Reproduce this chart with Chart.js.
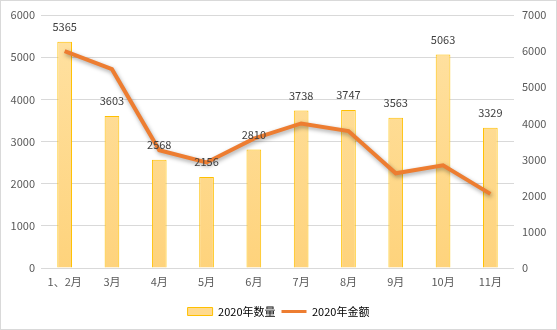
<!DOCTYPE html>
<html>
<head>
<meta charset="utf-8">
<script src="https://cdn.jsdelivr.net/npm/chart.js@4"></script>
<style>
  html, body { margin: 0; padding: 0; background: #fff; }
  #wrap { width: 557px; height: 330px; position: relative; }
</style>
</head>
<body>
<div id="wrap"><canvas id="chart"></canvas></div>
<script>
// monthly figures, 2020
const months = ["1、2月", "3月", "4月", "5月", "6月", "7月", "8月", "9月", "10月", "11月"];
const qty = [5365, 3603, 2568, 2156, 2810, 3738, 3747, 3563, 5063, 3329];
const amount = [6000, 5500, 3260, 2920, 3580, 4000, 3790, 2620, 2840, 2050];
const qtyName = "2020年数量";
const amountName = "2020年金额";

const FONT = "'Noto Sans CJK SC', 'Noto Sans', sans-serif";
const TEXT = "#595959";
const GRID = "#d9d9d9";
const ORANGE = "#ed7d31";

Chart.defaults.font.family = FONT;
Chart.defaults.font.size = 11;
Chart.defaults.color = TEXT;

function barFill(ctx) {
  const area = ctx.chart.chartArea;
  if (!area) return "#ffda8f";
  const g = ctx.chart.ctx.createLinearGradient(0, area.top, 0, area.bottom);
  g.addColorStop(0, "#ffe2a4");
  g.addColorStop(1, "#fed37c");
  return g;
}

const plain = (v) => String(v);

// number above each bar
const barLabels = {
  id: "barLabels",
  afterDatasetsDraw(chart) {
    const meta = chart.getDatasetMeta(0);
    const c = chart.ctx;
    c.save();
    c.font = "11px " + FONT;
    c.fillStyle = "#404040";
    c.textAlign = "center";
    c.textBaseline = "middle";
    meta.data.forEach((bar, i) => {
      c.fillText(String(qty[i]), bar.x, bar.y - 15);
    });
    c.restore();
  },
};

// soft drop shadow under the amount line
const lineShadow = {
  id: "lineShadow",
  beforeDatasetDraw(chart, args) {
    if (args.index !== 1) return;
    const c = chart.ctx;
    c.save();
    c.shadowColor = "rgba(0,0,0,0.35)";
    c.shadowBlur = 4;
    c.shadowOffsetX = 1;
    c.shadowOffsetY = 2;
  },
  afterDatasetDraw(chart, args) {
    if (args.index !== 1) return;
    chart.ctx.restore();
  },
};

// thin frame around the whole chart
const frame = {
  id: "frame",
  afterDraw(chart) {
    const c = chart.ctx;
    c.save();
    c.strokeStyle = GRID;
    c.lineWidth = 1;
    c.strokeRect(0.5, 0.5, chart.width - 1, chart.height - 1);
    c.restore();
  },
};

new Chart(document.getElementById("chart"), {
  data: {
    labels: months,
    datasets: [
      {
        type: "bar",
        label: qtyName,
        data: qty,
        yAxisID: "y",
        backgroundColor: barFill,
        borderColor: "#ffc000",
        borderWidth: 1,
        barPercentage: 0.31,
        categoryPercentage: 1,
        order: 1,
      },
      {
        type: "line",
        label: amountName,
        data: amount,
        yAxisID: "y1",
        borderColor: ORANGE,
        backgroundColor: ORANGE,
        borderWidth: 4,
        pointRadius: 0,
        tension: 0,
        order: 0,
      },
    ],
  },
  options: {
    responsive: true,
    maintainAspectRatio: false,
    animation: false,
    layout: { padding: { top: 15, bottom: 3, left: 0, right: 0 } },
    plugins: {
      tooltip: { enabled: false },
      legend: {
        position: "bottom",
        labels: {
          usePointStyle: true,
          pointStyleWidth: 25,
          boxWidth: 25,
          boxHeight: 8,
          padding: 6,
          color: TEXT,
          font: { size: 11 },
          generateLabels(chart) {
            return [
              { text: qtyName, pointStyle: "rect", fillStyle: "#ffda8f", strokeStyle: "#ffc000", lineWidth: 1, datasetIndex: 0 },
              { text: amountName, pointStyle: "line", fillStyle: ORANGE, strokeStyle: ORANGE, lineWidth: 3, datasetIndex: 1 },
            ];
          },
        },
      },
    },
    scales: {
      x: {
        grid: { display: false },
        border: { display: false },
        ticks: { color: TEXT, padding: -1, maxRotation: 0 },
        afterFit(scale) { scale.height = 32; },
      },
      y: {
        position: "left",
        min: 0,
        max: 6000,
        ticks: { stepSize: 1000, color: TEXT, padding: 6, callback: plain },
        grid: { color: GRID, drawTicks: false },
        border: { display: false },
        afterFit(scale) { scale.width = 41; },
      },
      y1: {
        position: "right",
        min: 0,
        max: 7000,
        ticks: { stepSize: 1000, color: TEXT, padding: 8, callback: plain },
        grid: { display: false, drawTicks: false },
        border: { display: false },
        afterFit(scale) { scale.width = 43; },
      },
    },
  },
  plugins: [barLabels, lineShadow, frame],
});
</script>
</body>
</html>
